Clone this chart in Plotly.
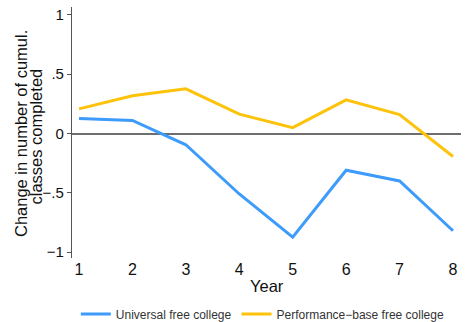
import plotly.graph_objects as go

years = [1, 2, 3, 4, 5, 6, 7, 8]
universal = [0.127, 0.11, -0.095, -0.51, -0.875, -0.31, -0.40, -0.82]
performance = [0.208, 0.318, 0.377, 0.163, 0.05, 0.284, 0.16, -0.194]
ytick_vals = [-1, -0.5, 0, 0.5, 1]
ytick_text = ["\u22121", "\u2212.5", "0", ".5", "1"]
ytitle_lines = ["Change in number of cumul.", "classes completed"]
xtitle = "Year"

blue = "#3d9bfb"
gold = "#fdc20a"
font = "Liberation Sans, Arial, sans-serif"

fig = go.Figure()
fig.add_trace(go.Scatter(x=years, y=universal, mode="lines", name="Universal free college",
                         line=dict(color=blue, width=3)))
fig.add_trace(go.Scatter(x=years, y=performance, mode="lines", name="Performance\u2212base free college",
                         line=dict(color=gold, width=3)))

# two-line y-axis title with tight line spacing
for text, xpos, ypos in zip(ytitle_lines, [-0.1311, -0.0913], [0.494, 0.486]):
    fig.add_annotation(text=text, xref="paper", yref="paper", x=xpos, y=ypos,
                       xanchor="center", yanchor="middle", textangle=-90, showarrow=False,
                       font=dict(family=font, size=16.5, color="#111"))

# x-axis title
fig.add_annotation(text=xtitle, xref="paper", yref="paper", x=0.5, y=-0.1116,
                   xanchor="center", yanchor="middle", showarrow=False,
                   font=dict(family=font, size=16.5, color="#111"))

fig.update_layout(
    width=466, height=322,
    margin=dict(l=72, r=5, t=7, b=64, autoexpand=False),
    paper_bgcolor="white", plot_bgcolor="white",
    font=dict(family=font, size=15, color="#111"),
    showlegend=True,
    legend=dict(orientation="h", x=0.564, xanchor="center", xref="container",
                y=0.0248, yanchor="middle", yref="container",
                font=dict(size=12, color="#333"), itemwidth=30),
    xaxis=dict(range=[0.869, 8.15], tickvals=years, showline=False, showgrid=False,
               zeroline=False, ticks="", tickfont=dict(size=16), automargin=False),
    yaxis=dict(range=[-1.05, 1.067], tickvals=ytick_vals, ticktext=ytick_text,
               showline=True, linecolor="#555", linewidth=1.2, showgrid=False,
               zeroline=True, zerolinecolor="#6e6e6e", zerolinewidth=1.5,
               ticks="outside", ticklen=4, tickcolor="#555", tickfont=dict(size=15),
               automargin=False),
)

fig.write_html("out.html")
